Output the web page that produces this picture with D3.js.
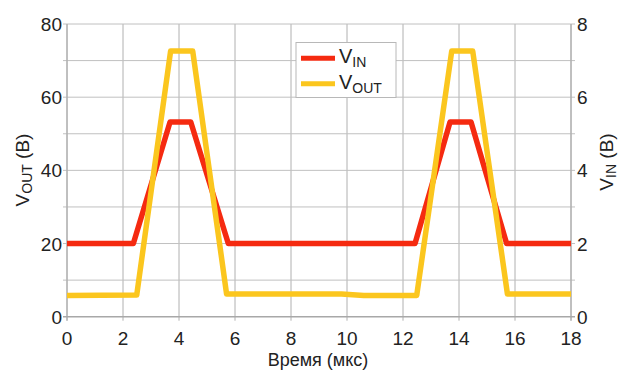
<!DOCTYPE html>
<html><head><meta charset="utf-8">
<script src="https://cdn.jsdelivr.net/npm/d3@7"></script>
<style>body{margin:0;background:#fff}svg{display:block}text{font-family:"Liberation Sans",Arial,sans-serif;fill:#222}</style>
</head><body><svg id="c" width="619" height="372"></svg>
<script>
const xTicks = [0,2,4,6,8,10,12,14,16,18];
const yLeftTicks = [0,20,40,60,80];
const yRightTicks = [0,2,4,6,8];
const gridY = [0,10,20,30,40,50,60,70,80];
const tIn  = [0, 2.37, 3.68, 4.42, 5.76, 12.43, 13.68, 14.43, 15.70, 18];
const vIn  = [2.0, 2.0, 5.32, 5.32, 2.0, 2.0, 5.32, 5.32, 2.0, 2.0];
const tOut = [0, 2.49, 3.70, 4.49, 5.70, 9.8, 10.6, 12.49, 13.74, 14.49, 15.73, 18];
const vOut = [5.8, 5.9, 72.6, 72.6, 6.2, 6.2, 5.8, 5.8, 72.6, 72.6, 6.2, 6.2];
const seriesNames = ["IN", "OUT"];

const svg = d3.select("#c");
const L = 67, R = 571, T = 24, B = 316.7;
const x = d3.scaleLinear().domain([0,18]).range([L,R]);
const yL = d3.scaleLinear().domain([0,80]).range([B,T]);
const yR = d3.scaleLinear().domain([0,8]).range([B,T]);
const grid = "#b0b0b0";

const g = svg.append("g");
g.selectAll(".vg").data(xTicks).join("line")
  .attr("x1", d=>x(d)).attr("x2", d=>x(d)).attr("y1", T).attr("y2", B+4)
  .attr("stroke", grid).attr("stroke-width", 1);
g.selectAll(".hg").data(gridY).join("line")
  .attr("x1", L-4).attr("x2", R+4).attr("y1", d=>yL(d)).attr("y2", d=>yL(d))
  .attr("stroke", d=> d===0 ? "#a8a8a8" : "#c0c0c0").attr("stroke-width", d=> d===0 ? 1.5 : 1);
g.append("line").attr("x1",L).attr("x2",L).attr("y1",T).attr("y2",B+4).attr("stroke","#a8a8a8");
g.append("line").attr("x1",R).attr("x2",R).attr("y1",T).attr("y2",B+4).attr("stroke","#a8a8a8");

// tick labels
g.selectAll(".xl").data(xTicks).join("text")
  .attr("x", d=>x(d)).attr("y", 345).attr("text-anchor","middle")
  .attr("font-size", 19).text(d=>d);
g.selectAll(".yl").data(yLeftTicks).join("text")
  .attr("x", L-5).attr("y", d=>yL(d)+7).attr("text-anchor","end")
  .attr("font-size", 19).text(d=>d);
g.selectAll(".yr").data(yRightTicks).join("text")
  .attr("x", R+6).attr("y", d=>yR(d)+7).attr("text-anchor","start")
  .attr("font-size", 19).text(d=>d);

// axis titles
svg.append("text").attr("x", 318).attr("y", 366).attr("text-anchor","middle")
  .attr("font-size", 18).text("Время (мкс)");
const lt = svg.append("text").attr("transform","translate(29,170) rotate(-90)")
  .attr("text-anchor","middle").attr("font-size",19);
lt.append("tspan").text("V");
lt.append("tspan").attr("font-size",14).attr("dy",3).text("OUT");
lt.append("tspan").attr("dy",-3).text(" (B)");
const rt = svg.append("text").attr("transform","translate(613,162) rotate(-90)")
  .attr("text-anchor","middle").attr("font-size",19);
rt.append("tspan").text("V");
rt.append("tspan").attr("font-size",14).attr("dy",3).text("IN");
rt.append("tspan").attr("dy",-3).text(" (B)");

// traces
const red = "#f52a10", yellow = "#fbc61e";
const inData = tIn.map((t,i)=>[t, vIn[i]]);
const outData = tOut.map((t,i)=>[t, vOut[i]]);
svg.append("path").datum(inData)
  .attr("d", d3.line().x(d=>x(d[0])).y(d=>yR(d[1])))
  .attr("fill","none").attr("stroke",red).attr("stroke-width",5.5).attr("stroke-linejoin","round");
svg.append("path").datum(outData)
  .attr("d", d3.line().x(d=>x(d[0])).y(d=>yL(d[1])))
  .attr("fill","none").attr("stroke",yellow).attr("stroke-width",5.5).attr("stroke-linejoin","round");

// legend
const lg = svg.append("g");
lg.append("rect").attr("x",296).attr("y",42.5).attr("width",100).attr("height",55)
  .attr("fill","#fff").attr("stroke","#b8b8b8");
[red, yellow].forEach((c,i)=>{
  const yy = 58.3 + i*25.5;
  lg.append("line").attr("x1",301).attr("x2",335).attr("y1",yy).attr("y2",yy)
    .attr("stroke",c).attr("stroke-width",5);
  const t = lg.append("text").attr("x",339).attr("y",yy+5).attr("font-size",20);
  t.append("tspan").text("V");
  t.append("tspan").attr("font-size",14).attr("dy",4).text(seriesNames[i]);
});
</script></body></html>
